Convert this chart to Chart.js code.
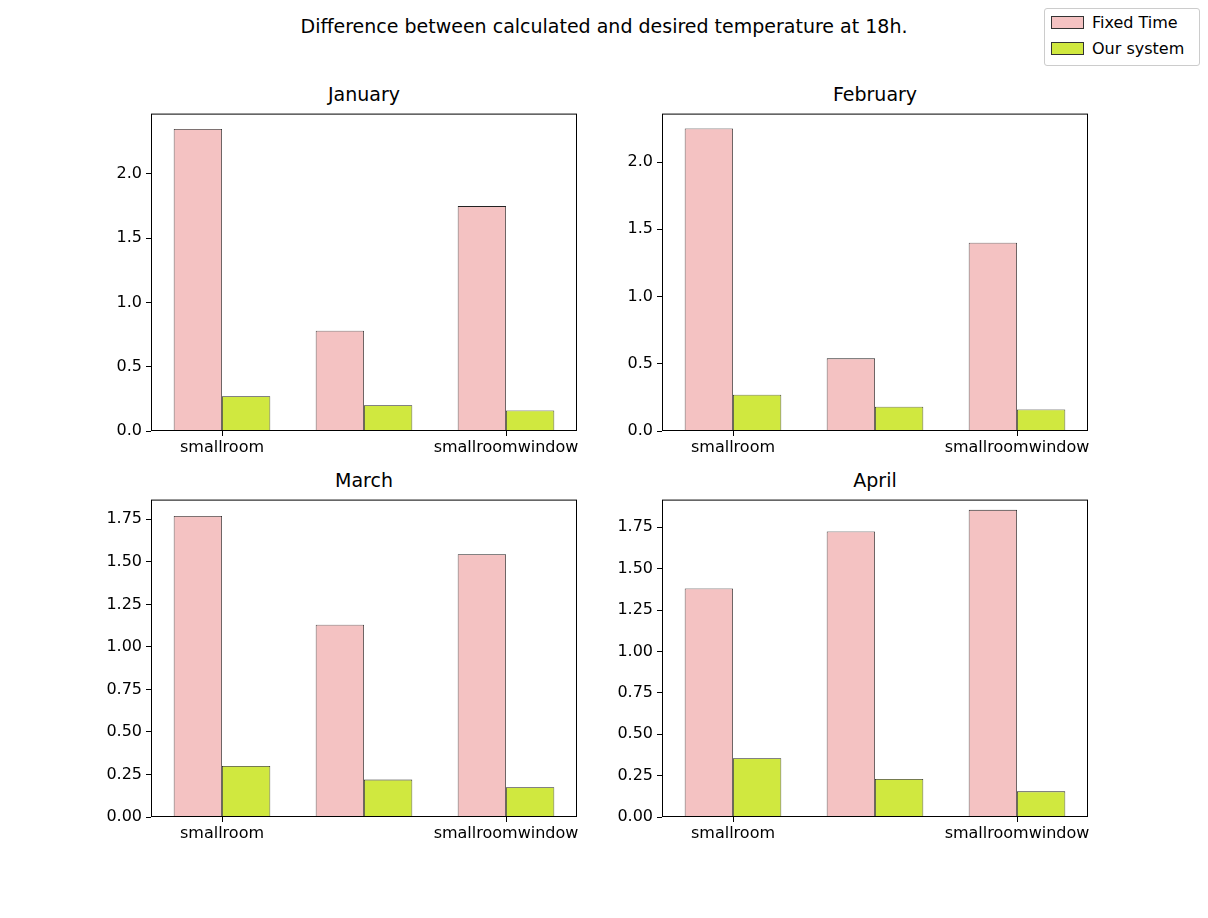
<!DOCTYPE html>
<html>
<head>
<meta charset="utf-8">
<script src="https://cdn.jsdelivr.net/npm/chart.js@4.4.0/dist/chart.umd.min.js"></script>
<style>
  body { margin: 0; width: 1208px; height: 918px; background: #fff; position: relative; font-family: "DejaVu Sans", sans-serif; }
  canvas { position: absolute; }
  .title { position: absolute; font-size: 19px; text-align: center; color: #000; }
  #legend { position: absolute; left: 1044px; top: 8px; width: 154px; height: 56px; border: 1px solid #ccc; border-radius: 3px; font-size: 16px; }
  .item { position: absolute; left: 6px; }
  .swatch { display: inline-block; width: 31px; height: 11px; border: 1px solid #333; vertical-align: -1px; margin-right: 8px; }
</style>
</head>
<body>
<div class="title" style="left:0;width:1208px;top:15px;">Difference between calculated and desired temperature at 18h.</div>
<div id="legend">
  <div class="item" style="top:4px;"><span class="swatch" style="background:#f4c2c2"></span>Fixed Time</div>
  <div class="item" style="top:30px;"><span class="swatch" style="background:#d0e83f"></span>Our system</div>
</div>

<script>
// Data
const rooms = ['smallroom', 'bigroom', 'smallroomwindow'];
const months = ['January', 'February', 'March', 'April'];
const fixedJan = [2.35, 0.78, 1.75];
const oursJan = [0.27, 0.20, 0.16];
const fixedFeb = [2.25, 0.54, 1.40];
const oursFeb = [0.27, 0.18, 0.16];
const fixedMar = [1.77, 1.13, 1.545];
const oursMar = [0.30, 0.22, 0.175];
const fixedApr = [1.38, 1.725, 1.855];
const oursApr = [0.355, 0.23, 0.155];
const yMax = [2.47, 2.36, 1.866, 1.917];
const yStep = [0.5, 0.5, 0.25, 0.25];

const fixedAll = [fixedJan, fixedFeb, fixedMar, fixedApr];
const oursAll = [oursJan, oursFeb, oursMar, oursApr];

// Plot area positions (left, top), each area 426 x 321
const spots = [[151, 110], [662, 110], [151, 496], [662, 496]];
const AXW = 60, AXH = 30, PW = 426, PH = 321;

const frame = {
    id: 'frame',
    afterDraw(chart) {
        const a = chart.chartArea, ctx = chart.ctx;
        ctx.save();
        ctx.strokeStyle = '#000';
        ctx.lineWidth = 1;
        ctx.strokeRect(a.left + 0.5, a.top + 0.5, a.right - a.left - 1, a.bottom - a.top - 1);
        ctx.restore();
    }
};

months.forEach((m, i) => {
    const [px, py] = spots[i];
    const t = document.createElement('div');
    t.className = 'title';
    t.style.left = px + 'px';
    t.style.width = PW + 'px';
    t.style.top = (py - 27) + 'px';
    t.textContent = m;
    document.body.appendChild(t);

    const c = document.createElement('canvas');
    c.width = AXW + PW + 6;
    c.height = PH + AXH + 12;
    c.style.left = (px - AXW) + 'px';
    c.style.top = (py - 10) + 'px';
    document.body.appendChild(c);

    const step = yStep[i];
    const dec = step === 0.5 ? 1 : 2;
    new Chart(c.getContext('2d'), {
        type: 'bar',
        data: {
            labels: rooms,
            datasets: [
                { label: 'Fixed Time', data: fixedAll[i], backgroundColor: '#f4c2c2', borderColor: '#222', borderWidth: 0.8 },
                { label: 'Our system', data: oursAll[i], backgroundColor: '#d0e83f', borderColor: '#222', borderWidth: 0.8 }
            ]
        },
        options: {
            responsive: false,
            animation: false,
            layout: { autoPadding: false, padding: { top: 10, right: 6, left: 0, bottom: 2 } },
            plugins: { legend: { display: false }, tooltip: { enabled: false } },
            datasets: { bar: { categoryPercentage: 0.68, barPercentage: 1.0 } },
            scales: {
                x: {
                    grid: { drawOnChartArea: false, drawTicks: true, tickLength: 5, color: '#000', offset: false },
                    border: { display: false },
                    ticks: { color: '#000', font: { family: 'DejaVu Sans', size: 16 }, padding: 2, maxRotation: 0 },
                    afterFit(s) { s.height = AXH; }
                },
                y: {
                    min: 0,
                    max: yMax[i],
                    grid: { drawOnChartArea: false, drawTicks: true, tickLength: 5, color: '#000' },
                    border: { display: false },
                    afterBuildTicks(s) {
                        s.ticks = s.ticks.filter(tk => Math.abs(tk.value / step - Math.round(tk.value / step)) < 1e-6);
                    },
                    ticks: {
                        stepSize: step,
                        color: '#000',
                        font: { family: 'DejaVu Sans', size: 16 },
                        padding: 4,
                        callback: v => Number(v).toFixed(dec)
                    },
                    afterFit(s) { s.width = AXW; }
                }
            }
        },
        plugins: [frame]
    });
});
</script>
</body>
</html>
